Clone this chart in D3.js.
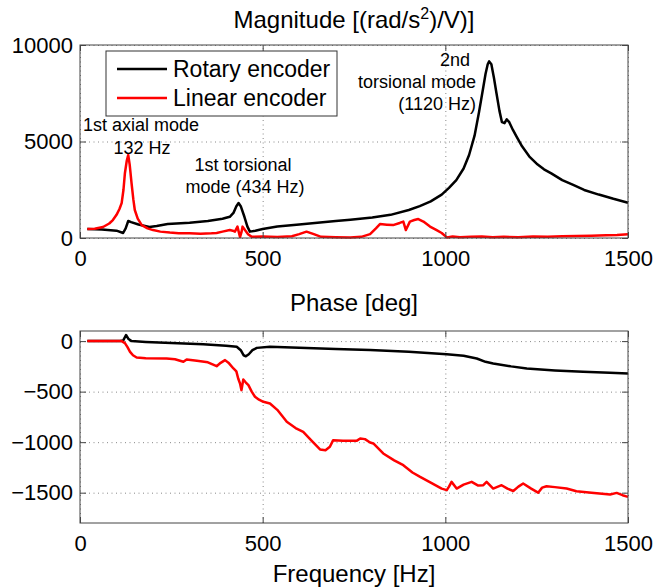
<!DOCTYPE html>
<html>
<head>
<meta charset="utf-8">
<script src="https://cdn.jsdelivr.net/npm/d3@7"></script>
<style>
  body { margin: 0; background: #fff; }
  svg text { font-family: "Liberation Sans", Arial, sans-serif; fill: #000; }
</style>
</head>
<body>
<svg id="chart" width="657" height="588"></svg>
<script>
// x ticks shared by both panels
const freqTicks = [0, 500, 1000, 1500];
const magTicks = [0, 5000, 10000];
const phaseTicks = [-1500, -1000, -500, 0];

// magnitude, rotary encoder
const rotMagHz = [20, 60, 100, 118, 125, 132, 140, 160, 190, 210, 240, 300, 350, 390, 410, 420, 428, 434, 440, 450, 458, 465, 480, 500, 540, 600, 650, 700, 740, 800, 850, 900, 930, 960, 990, 1010, 1030, 1050, 1065, 1080, 1092, 1102, 1110, 1116, 1120, 1126, 1133, 1140, 1148, 1155, 1162, 1168, 1175, 1185, 1195, 1210, 1230, 1250, 1270, 1290, 1320, 1350, 1380, 1420, 1460, 1500];
const rotMag = [466, 440, 380, 260, 500, 880, 820, 700, 570, 620, 720, 790, 880, 1000, 1100, 1300, 1650, 1810, 1650, 1100, 600, 330, 380, 470, 600, 700, 790, 880, 950, 1060, 1200, 1450, 1650, 1900, 2250, 2600, 3000, 3600, 4300, 5300, 6500, 7600, 8500, 9000, 9150, 9000, 8300, 7500, 6600, 6000, 5950, 6150, 6000, 5600, 5250, 4750, 4220, 3850, 3560, 3350, 3000, 2750, 2490, 2250, 2030, 1830];

// magnitude, linear encoder
const linMagHz = [20, 40, 63, 80, 90, 100, 108, 114, 119, 123, 128, 132, 136, 141, 146, 150, 158, 169, 185, 200, 220, 246, 270, 300, 330, 360, 374, 390, 410, 418, 424, 431, 436, 438, 442, 445, 452, 460, 470, 500, 540, 580, 600, 620, 640, 660, 700, 740, 770, 794, 810, 821, 840, 857, 875, 885, 892, 903, 915, 926, 940, 958, 975, 990, 1004, 1020, 1040, 1070, 1100, 1130, 1160, 1200, 1240, 1280, 1320, 1360, 1400, 1440, 1470, 1500];
const linMag = [466, 480, 570, 750, 930, 1200, 1500, 1810, 2500, 3370, 4000, 4300, 3800, 2850, 2000, 1450, 1000, 670, 500, 410, 330, 280, 250, 240, 220, 240, 260, 330, 410, 380, 330, 590, 200, 50, 300, 590, 400, 200, 60, 80, 50, 90, 200, 330, 200, 60, 40, 20, 60, 200, 500, 720, 690, 670, 780, 850, 410, 850, 930, 980, 850, 590, 420, 260, 30, 80, 40, 60, 80, 40, 60, 40, 80, 60, 90, 110, 120, 140, 150, 190];

// phase, rotary encoder
const rotPhHz = [20, 110, 118, 126, 133, 141, 180, 250, 337, 400, 429, 440, 448, 454, 462, 472, 484, 520, 600, 700, 794, 900, 1004, 1050, 1086, 1110, 1131, 1180, 1223, 1300, 1377, 1450, 1500];
const rotPh = [0, 0, 5, 60, 20, 0, -8, -18, -30, -45, -56, -90, -140, -150, -130, -90, -67, -56, -65, -77, -89, -105, -129, -145, -172, -205, -221, -250, -271, -290, -304, -314, -320];

// phase, linear encoder
const linPhHz = [20, 114, 123, 130, 137, 145, 155, 180, 237, 260, 283, 292, 320, 350, 374, 385, 397, 408, 420, 428, 433, 438, 442, 447, 454, 461, 470, 479, 490, 502, 520, 540, 566, 590, 611, 635, 657, 672, 684, 693, 720, 757, 767, 780, 794, 803, 830, 860, 885, 910, 931, 960, 990, 1004, 1010, 1017, 1031, 1050, 1072, 1090, 1104, 1113, 1131, 1154, 1170, 1186, 1200, 1213, 1235, 1254, 1265, 1277, 1300, 1332, 1359, 1400, 1451, 1469, 1485, 1500];
const linPh = [0, 0, -20, -60, -106, -140, -162, -170, -172, -180, -205, -182, -195, -210, -248, -215, -188, -220, -271, -300, -370, -420, -485, -380, -410, -436, -500, -551, -580, -601, -617, -680, -799, -860, -898, -990, -1072, -1080, -1046, -980, -985, -987, -964, -970, -1003, -1013, -1112, -1180, -1228, -1300, -1344, -1400, -1460, -1475, -1440, -1393, -1459, -1420, -1393, -1430, -1426, -1393, -1459, -1426, -1460, -1483, -1440, -1409, -1460, -1500, -1450, -1436, -1445, -1459, -1485, -1500, -1518, -1502, -1525, -1541];

const svg = d3.select("#chart");
const left = 80, right = 628;

const x = d3.scaleLinear().domain([0, 1500]).range([left, right]);
const yMag = d3.scaleLinear().domain([0, 10000]).range([238, 45]);
const yPh = d3.scaleLinear().domain([-1800, 100]).range([523, 331]);

function zip(xs, ys) { return xs.map((f, i) => [f, ys[i]]); }

function panel(y, yTicks, series) {
    const top = y.range()[1], bottom = y.range()[0];
    const g = svg.append("g");

    // dotted grid
    g.append("g")
        .attr("transform", "translate(0," + bottom + ")")
        .call(d3.axisBottom(x).tickValues(freqTicks).tickSize(-(bottom - top)).tickFormat(""))
        .call(a => a.select(".domain").remove())
        .selectAll("line").attr("stroke", "#888").attr("stroke-dasharray", "1,3.5");
    g.append("g")
        .attr("transform", "translate(" + left + ",0)")
        .call(d3.axisLeft(y).tickValues(yTicks).tickSize(-(right - left)).tickFormat(""))
        .call(a => a.select(".domain").remove())
        .selectAll("line").attr("stroke", "#888").attr("stroke-dasharray", "1,3.5");

    const line = d3.line().x(d => x(d[0])).y(d => y(d[1]));
    series.forEach(s => {
        g.append("path")
            .datum(zip(s.hz, s.v))
            .attr("fill", "none")
            .attr("stroke", s.color)
            .attr("stroke-width", 2.5)
            .attr("stroke-linejoin", "round")
            .attr("d", line);
    });

    // frame and inward ticks on all sides
    const axB = g.append("g").attr("transform", "translate(0," + bottom + ")")
        .call(d3.axisBottom(x).tickValues(freqTicks).tickSize(-6).tickPadding(12).tickFormat(d3.format("d")));
    const axT = g.append("g").attr("transform", "translate(0," + top + ")")
        .call(d3.axisTop(x).tickValues(freqTicks).tickSize(-6).tickFormat(""));
    const axL = g.append("g").attr("transform", "translate(" + left + ",0)")
        .call(d3.axisLeft(y).tickValues(yTicks).tickSize(-6).tickPadding(7)
            .tickFormat(d => d < 0 ? "\u2212" + Math.abs(d) : d));
    const axR = g.append("g").attr("transform", "translate(" + right + ",0)")
        .call(d3.axisRight(y).tickValues(yTicks).tickSize(-6).tickFormat(""));
    [axB, axT, axL, axR].forEach(a => {
        a.selectAll(".domain").attr("stroke", "#444").attr("d", null);
        a.selectAll("line").attr("stroke", "#444");
        a.selectAll("text").style("font-size", "22px").attr("fill", "#000");
    });
    g.append("rect")
        .attr("x", left).attr("y", top)
        .attr("width", right - left).attr("height", bottom - top)
        .attr("fill", "none").attr("stroke", "#444").attr("stroke-width", 1);
    axB.selectAll("text").attr("dy", "0.71em");
    return g;
}

panel(yMag, magTicks, [
    {hz: rotMagHz, v: rotMag, color: "#000"},
    {hz: linMagHz, v: linMag, color: "#f00"}
]);
panel(yPh, phaseTicks, [
    {hz: rotPhHz, v: rotPh, color: "#000"},
    {hz: linPhHz, v: linPh, color: "#f00"}
]);

// titles
const t1 = svg.append("text").attr("x", 354).attr("y", 28)
    .attr("text-anchor", "middle").style("font-size", "24px");
t1.append("tspan").text("Magnitude [(rad/s");
t1.append("tspan").attr("dy", -9).style("font-size", "16px").text("2");
t1.append("tspan").attr("dy", 9).text(")/V)]");

svg.append("text").attr("x", 354).attr("y", 311)
    .attr("text-anchor", "middle").style("font-size", "24px").text("Phase [deg]");

svg.append("text").attr("x", 354).attr("y", 582)
    .attr("text-anchor", "middle").style("font-size", "24px").text("Frequency [Hz]");

// legend
const leg = svg.append("g");
leg.append("rect").attr("x", 106).attr("y", 51).attr("width", 231).attr("height", 65)
    .attr("fill", "#fff").attr("stroke", "#333").attr("stroke-width", 1);
[["Rotary encoder", "#000", 69], ["Linear encoder", "#f00", 98]].forEach(([name, c, ly]) => {
    leg.append("line").attr("x1", 117).attr("x2", 167).attr("y1", ly).attr("y2", ly)
        .attr("stroke", c).attr("stroke-width", 2.5);
    leg.append("text").attr("x", 173).attr("y", ly + 8).style("font-size", "23px").text(name);
});

// mode annotations
const notes = [
    ["1st axial mode", 141, 131, "middle"],
    ["132 Hz", 142, 154, "middle"],
    ["1st torsional", 243, 171, "middle"],
    ["mode (434 Hz)", 245, 193, "middle"],
    ["2nd", 470, 66, "end"],
    ["torsional mode", 476, 88, "end"],
    ["(1120 Hz)", 476, 110, "end"]
];
notes.forEach(([s, nx, ny, anchor]) => {
    svg.append("text").attr("x", nx).attr("y", ny)
        .attr("text-anchor", anchor).style("font-size", "18px").text(s);
});
</script>
</body>
</html>
